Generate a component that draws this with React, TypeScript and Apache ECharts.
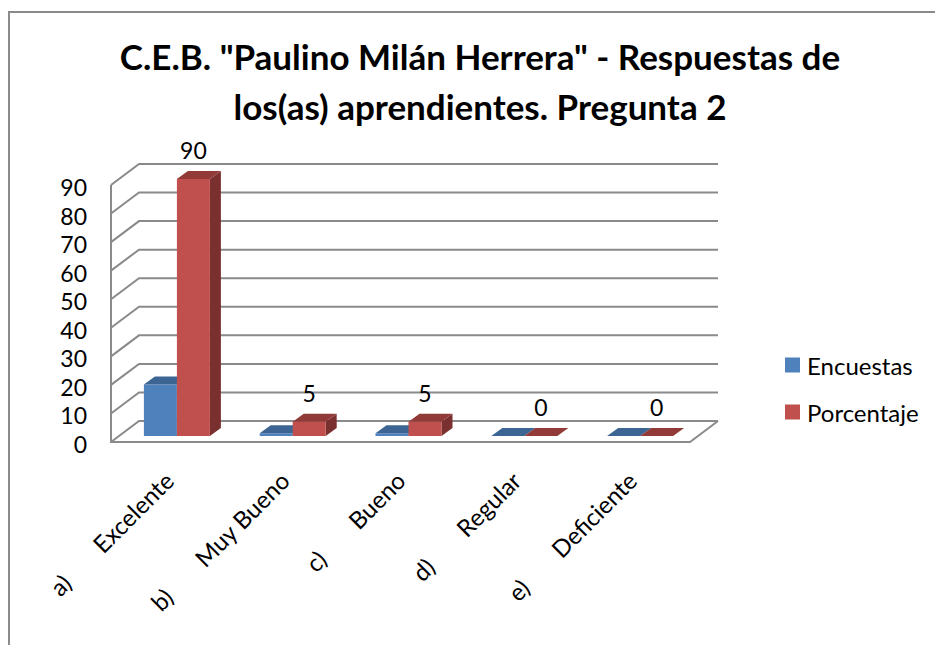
import React, { useEffect, useRef } from "react";
import * as echarts from "echarts";

const titleText = 'C.E.B. "Paulino Milán Herrera" - Respuestas de\nlos(as) aprendientes. Pregunta 2';
const categories = ["a)       Excelente", "b)       Muy Bueno", "c)       Bueno", "d)       Regular", "e)       Deficiente"];
const encuestas = [18, 1, 1, 0, 0];
const porcentaje = [90, 5, 5, 0, 0];
const gridTicks = [0, 10, 20, 30, 40, 50, 60, 70, 80, 90];

const FONT = "Lato";
const WALL_DX = 28;
const WALL_DY = -21;
const PLANE_DX = 8;
const PLANE_DY = -6;
const DEPTH_DX = 11;
const DEPTH_DY = -8;
const BAR_W = 33;
const LINE = "#8a8a8a";

function barRenderer(side: "left" | "right", front: string, top: string, flank: string, showLabel: boolean) {
  return (params: any, api: any) => {
    const cat = api.value(0);
    const val = api.value(1);
    const t = api.coord([cat, val]);
    const b = api.coord([cat, 0]);
    const x0 = t[0] + PLANE_DX + (side === "left" ? -BAR_W : 0);
    const x1 = x0 + BAR_W;
    const yT = t[1] + PLANE_DY;
    const yB = b[1] + PLANE_DY;
    const children: any[] = [
      {
        type: "polygon",
        shape: { points: [[x1, yB], [x1 + DEPTH_DX, yB + DEPTH_DY], [x1 + DEPTH_DX, yT + DEPTH_DY], [x1, yT]] },
        style: { fill: flank },
      },
      { type: "rect", shape: { x: x0, y: yT, width: BAR_W, height: yB - yT }, style: { fill: front } },
      {
        type: "polygon",
        shape: { points: [[x0, yT], [x0 + DEPTH_DX, yT + DEPTH_DY], [x1 + DEPTH_DX, yT + DEPTH_DY], [x1, yT]] },
        style: { fill: top },
      },
    ];
    if (showLabel) {
      children.push({
        type: "text",
        style: {
          x: (x0 + x1) / 2,
          y: yT + DEPTH_DY - 21,
          text: String(val),
          fill: "#000",
          font: `23px ${FONT}`,
          align: "center",
          verticalAlign: "middle",
        },
      });
    }
    return { type: "group", children };
  };
}

function wallRenderer(params: any, api: any) {
  const val = api.value(1);
  const p = api.coord([0, val]);
  const cs = params.coordSys;
  const xL = cs.x;
  const xR = cs.x + cs.width;
  const y = p[1];
  const children: any[] = [
    {
      type: "polyline",
      shape: { points: [[xL, y], [xL + WALL_DX, y + WALL_DY], [xR + WALL_DX, y + WALL_DY]] },
      style: { stroke: LINE, lineWidth: 2, fill: "none" },
    },
  ];
  if (val === 0) {
    children.push({
      type: "polyline",
      shape: { points: [[xL, cs.y], [xL, y], [xR, y], [xR + WALL_DX, y + WALL_DY]] },
      style: { stroke: LINE, lineWidth: 2, fill: "none" },
    });
  }
  return { type: "group", children };
}

export default function App() {
  const ref = useRef<HTMLDivElement>(null);
  useEffect(() => {
    const chart = echarts.init(ref.current!, undefined, { renderer: "svg" });
    chart.setOption({
      animation: false,
      backgroundColor: "#fff",
      textStyle: { fontFamily: FONT },
      graphic: [
        {
          type: "rect",
          silent: true,
          shape: { x: 9, y: 12, width: 1000, height: 1000 },
          style: { fill: "none", stroke: "#8a8a8a", lineWidth: 2 },
        },
      ],
      title: {
        text: titleText,
        left: 475,
        top: 26,
        textAlign: "center",
        textStyle: { fontFamily: FONT, fontWeight: "bold", fontSize: 35, lineHeight: 50, color: "#000" },
      },
      legend: {
        data: ["Encuestas", "Porcentaje"],
        orient: "vertical",
        left: 785,
        top: 353,
        padding: 0,
        itemWidth: 15,
        itemHeight: 15,
        itemGap: 23,
        icon: "rect",
        textStyle: { fontFamily: FONT, fontSize: 24, color: "#000", padding: [0, 0, 0, 2] },
      },
      grid: { left: 111, top: 185, width: 579, height: 257, containLabel: false },
      xAxis: {
        type: "category",
        data: categories,
        axisLine: { show: false },
        axisTick: { show: false },
        splitLine: { show: false },
        axisLabel: { rotate: 45, interval: 0, margin: 34, fontFamily: FONT, fontSize: 24, color: "#000" },
      },
      yAxis: {
        type: "value",
        min: 0,
        max: 90,
        interval: 10,
        axisLine: { show: false },
        axisTick: { show: false },
        splitLine: { show: false },
        axisLabel: {
          margin: 24,
          formatter: "{v|{value}}",
          rich: { v: { fontFamily: FONT, fontSize: 23, color: "#000", padding: [4, 0, 0, 0] } },
        },
      },
      series: [
        {
          type: "custom",
          name: "walls",
          renderItem: wallRenderer,
          encode: { x: 0, y: 1 },
          data: gridTicks.map((t) => [0, t]),
          silent: true,
          clip: false,
          z: 1,
        },
        {
          type: "custom",
          name: "Encuestas",
          renderItem: barRenderer("left", "#4F81BD", "#3D6593", "#35577F", false),
          encode: { x: 0, y: 1 },
          data: encuestas.map((v, i) => [i, v]),
          itemStyle: { color: "#4F81BD" },
          clip: false,
          z: 2,
        },
        {
          type: "custom",
          name: "Porcentaje",
          renderItem: barRenderer("right", "#C0504D", "#923A38", "#7A302E", true),
          encode: { x: 0, y: 1 },
          data: porcentaje.map((v, i) => [i, v]),
          itemStyle: { color: "#C0504D" },
          clip: false,
          z: 3,
        },
      ],
    });
    return () => chart.dispose();
  }, []);
  return <div ref={ref} style={{ position: "absolute", left: 0, top: 0, width: 935, height: 645 }} />;
}
